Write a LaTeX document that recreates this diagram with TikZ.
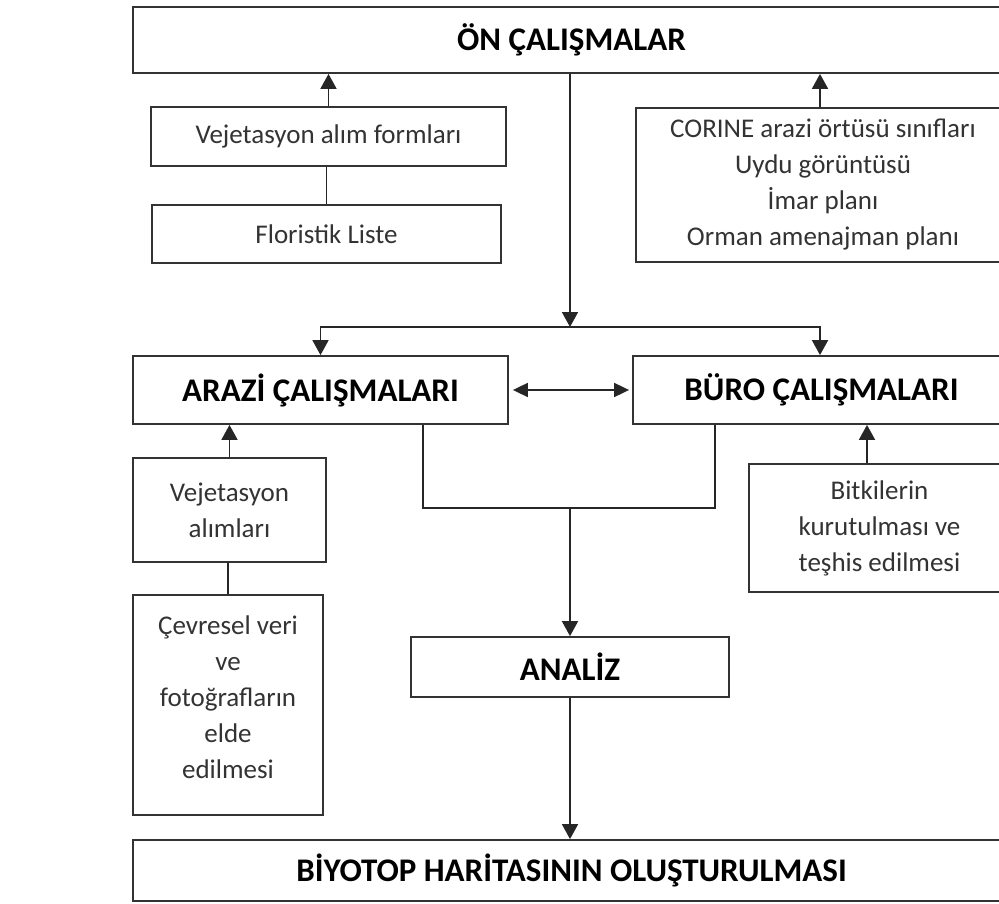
\documentclass[tikz,border=0pt]{standalone}
\usepackage{fontspec}
\setmainfont{Carlito}
\usetikzlibrary{arrows.meta}
\newcommand{\boxFont}[0]{\fontsize{27}{36}\selectfont}
\newcommand{\titleFont}[0]{\fontsize{33}{40}\selectfont\bfseries}

\begin{document}
\begin{tikzpicture}[x=1pt, y=-1pt]
  \tikzset{every node/.style={align=center, inner sep=0pt, font=\boxFont},
    box/.style={draw=black!80, line width=1.8pt, text=black!80, fill=white},
    title/.style={box, font=\titleFont, text=black},
    link/.style={line width=1.8pt, black!85},
    arr/.style={link, -{Triangle[length=15pt, width=16pt]}},
    dblarr/.style={link, {Triangle[length=15pt, width=14pt]}-{Triangle[length=15pt, width=14pt]}}}
  \useasboundingbox (0,0) rectangle (999,904);

  \node[title, minimum width=877pt, minimum height=66pt] (on) at (571.5,40) {ÖN ÇALIŞMALAR};
  \node[box, minimum width=355pt, minimum height=59pt] (formlar) at (328.5,136.5) {Vejetasyon alım formları};
  \node[box, minimum width=349pt, minimum height=58pt] (floristik) at (326.5,234) {Floristik Liste};
  \node[box, minimum width=374pt, minimum height=154pt] (corine) at (823,185)
    {CORINE arazi örtüsü sınıfları\\Uydu görüntüsü\\İmar planı\\Orman amenajman planı};

  \node[title, minimum width=375pt, minimum height=68pt] (arazi) at (320.5,390) {ARAZİ ÇALIŞMALARI};
  \node[title, minimum width=377pt, minimum height=68pt] (buro) at (821.5,390) {BÜRO ÇALIŞMALARI};

  \node[box, minimum width=193pt, minimum height=104pt] (alimlar) at (229.5,510) {Vejetasyon\\alımları};
  \node[box, minimum width=190pt, minimum height=220pt] (cevresel) at (228,705)
    {Çevresel veri\\ve\\fotoğrafların\\elde\\edilmesi\\[-20pt]\mbox{}};
  \node[box, minimum width=261pt, minimum height=128pt] (bitki) at (879.5,528)
    {Bitkilerin\\kurutulması ve\\teşhis edilmesi};

  \node[title, minimum width=318pt, minimum height=60pt] (analiz) at (570,667) {ANALİZ};
  \node[title, minimum width=877pt, minimum height=61pt] (biyotop) at (571.5,870.5) {BİYOTOP HARİTASININ OLUŞTURULMASI};

  \coordinate (split) at (570,327);
  \coordinate (joinL) at (423,508);
  \coordinate (join) at (570,508);
  \coordinate (joinR) at (715,508);

  \draw[arr] (formlar.north) -- (formlar.north |- on.south);
  \draw[link] (floristik.north) -- (floristik.north |- formlar.south);
  \draw[arr] ([xshift=-3pt]corine.north) -- ([xshift=-3pt]corine.north |- on.south);
  \draw[arr] (split |- on.south) -- (split);
  \draw[arr] (split) -| (arazi.north);
  \draw[arr] (split) -| ([xshift=-1.5pt]buro.north);
  \draw[dblarr, shorten <=4pt, shorten >=3pt] (arazi.east) -- (buro.west);
  \draw[link] (arazi.south -| joinL) -- (joinL) -- (joinR) -- (buro.south -| joinR);
  \draw[arr] (join) -- (analiz.north);
  \draw[arr] (alimlar.north) -- (alimlar.north |- arazi.south);
  \draw[link] (cevresel.north) -- (cevresel.north |- alimlar.south);
  \draw[arr] ([xshift=-12.5pt]bitki.north) -- ([xshift=-12.5pt]bitki.north |- buro.south);
  \draw[arr] (analiz.south) -- (analiz.south |- biyotop.north);
\end{tikzpicture}
\end{document}
